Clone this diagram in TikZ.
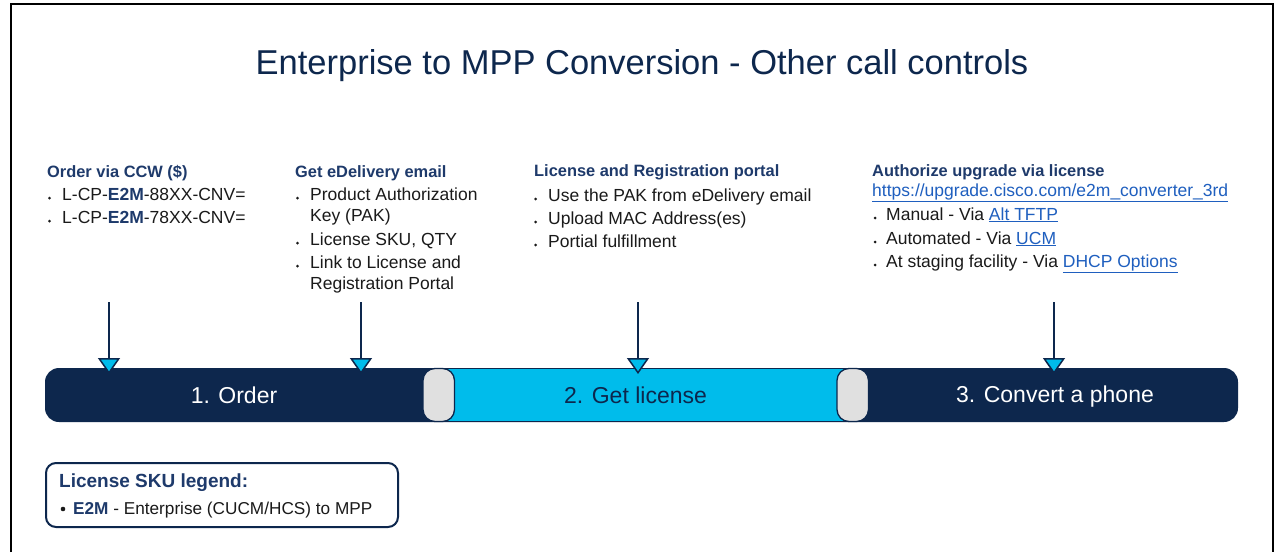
\documentclass[tikz,border=0pt]{standalone}
\usepackage{fontspec}
\setmainfont{Liberation Sans}
\usetikzlibrary{arrows.meta}
\definecolor{navy}{HTML}{0D274D}
\definecolor{hdc}{HTML}{1E3A6B}
\definecolor{txtc}{HTML}{1A1A1A}
\definecolor{cyanc}{HTML}{00BCEB}
\definecolor{pillc}{HTML}{E0E0E0}
\definecolor{linkc}{HTML}{1F5FBF}
\newcommand{\lk}[1]{\textcolor{linkc}{\underline{#1}}}
\newcommand{\ecode}{{\bfseries\color{hdc}E2M}}
\begin{document}
\begin{tikzpicture}[x=1pt,y=-1pt,
  hd/.style={anchor=base west, inner sep=0pt, font=\bfseries\fontsize{16.4}{20}\selectfont, text=hdc},
  bt/.style={anchor=base west, inner sep=0pt, font=\fontsize{17.5}{20}\selectfont, text=txtc},
  lgb/.style={anchor=base west, inner sep=0pt, font=\fontsize{17.2}{20}\selectfont, text=txtc},
  lgh/.style={anchor=base west, inner sep=0pt, font=\bfseries\fontsize{19}{22}\selectfont, text=hdc},
  barlab/.style={anchor=base, inner sep=0pt, font=\fontsize{23}{26}\selectfont},
  arr/.style={navy, line width=1.5pt, -{Triangle[width=22pt,length=16pt,fill=cyanc]}},
  dotb/.style={fill=txtc},
  pill/.style={draw=navy, fill=pillc, line width=1.3pt, rounded corners=12pt}
]
\useasboundingbox (0,0) rectangle (1278,552);
\fill[white] (0,0) rectangle (1278,552);
\draw[black, line width=1.4pt] (11,552) -- (11,4) -- (1273,4) -- (1273,552);

% title
\node[anchor=base, inner sep=0pt, font=\fontsize{34.5}{40}\selectfont, text=navy] (title) at (642,74) {Enterprise to MPP Conversion - Other call controls};

% column 1
\node[hd] (h1) at (47,177) {Order via CCW (\$)};
\node[bt] (c1a) at (62,200) {L-CP-\ecode-88XX-CNV=};
\node[bt] (c1b) at (62,223) {L-CP-\ecode-78XX-CNV=};
\fill[dotb] (49.5,198) circle (1.5);
\fill[dotb] (49.5,221) circle (1.5);

% column 2
\node[hd] (h2) at (295,177) {Get eDelivery email};
\node[bt] (c2a) at (310,200) {Product Authorization};
\node[bt] (c2b) at (310,221.5) {Key (PAK)};
\node[bt] (c2c) at (310,245) {License SKU, QTY};
\node[bt] (c2d) at (310,268) {Link to License and};
\node[bt] (c2e) at (310,289.5) {Registration Portal};
\fill[dotb] (297.5,198) circle (1.5);
\fill[dotb] (297.5,243) circle (1.5);
\fill[dotb] (297.5,266) circle (1.5);

% column 3
\node[hd] (h3) at (534,176) {License and Registration portal};
\node[bt] (c3a) at (548,201) {Use the PAK from eDelivery email};
\node[bt] (c3b) at (548,224) {Upload MAC Address(es)};
\node[bt] (c3c) at (548,247) {Portial fulfillment};
\fill[dotb] (535.5,199) circle (1.5);
\fill[dotb] (535.5,222) circle (1.5);
\fill[dotb] (535.5,245) circle (1.5);

% column 4
\node[hd] (h4) at (872,176) {Authorize upgrade via license};
\node[bt] (url) at (872,196) {\lk{https://upgrade.cisco.com/e2m\_converter\_3rd}};
\node[bt] (c4a) at (886,220) {Manual - Via \lk{Alt TFTP}};
\node[bt] (c4b) at (886,244) {Automated - Via \lk{UCM}};
\node[bt] (c4c) at (886,267) {At staging facility - Via \lk{DHCP Options}};
\fill[dotb] (875,218) circle (1.5);
\fill[dotb] (875,242) circle (1.5);
\fill[dotb] (875,265) circle (1.5);

% bar
\fill[navy, rounded corners=14pt] (45,368) rectangle (1238,422);
\draw[navy, fill=cyanc, line width=1.2pt] (440,368.6) rectangle (852,421.4);
\draw[pill] (423,368.5) rectangle (454.5,421.5);
\draw[pill] (837,368.5) rectangle (868.5,421.5);
\node[barlab, text=white] (s1) at (234,403) {1. Order};
\node[barlab, text=navy] (s2) at (635.5,403) {2. Get license};
\node[barlab, text=white] (s3) at (1055,402) {3. Convert a phone};

% arrows
\coordinate (a1s) at (109,302); \coordinate (a1e) at (109,374);
\coordinate (a2s) at (361,302); \coordinate (a2e) at (361,374);
\coordinate (a3s) at (638,302); \coordinate (a3e) at (638,374);
\coordinate (a4s) at (1054,302); \coordinate (a4e) at (1054,374);
\draw[arr] (a1s) -- (a1e);
\draw[arr] (a2s) -- (a2e);
\draw[arr] (a3s) -- (a3e);
\draw[arr] (a4s) -- (a4e);

% legend
\draw[navy, line width=2pt, rounded corners=10pt, fill=white] (46,463) rectangle (398,527);
\node[lgh] (lh) at (59,487) {License SKU legend:};
\fill[txtc] (63,509) circle (2.3);
\node[lgb] (lb) at (73,514) {\ecode{} - Enterprise (CUCM/HCS) to MPP};
\end{tikzpicture}
\end{document}
